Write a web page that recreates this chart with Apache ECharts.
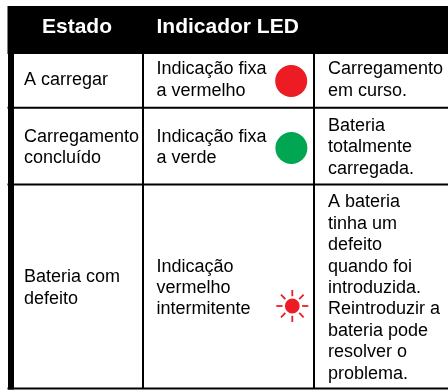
<!DOCTYPE html>
<html><head><meta charset="utf-8">
<script src="https://cdn.jsdelivr.net/npm/echarts@6/dist/echarts.min.js"></script>
<style>html,body{margin:0;padding:0;background:#fff}#c{width:448px;height:390px}</style>
</head><body><div id="c"></div>
<script>
const headers = ['Estado', 'Indicador LED'];
const states = ['A carregar', 'Carregamento\nconcluído', 'Bateria com\ndefeito'];
const indicators = ['Indicação fixa\na vermelho', 'Indicação fixa\na verde', 'Indicação\nvermelho\nintermitente'];
const descriptions = [
  'Carregamento\nem curso.',
  'Bateria\ntotalmente\ncarregada.',
  'A bateria\ntinha um\ndefeito\nquando foi\nintroduzida.\nReintroduzir a\nbateria pode\nresolver o\nproblema.'
];
const ledKinds = ['solid', 'solid', 'blink'];
const ledColors = ['#ed1c24', '#00a651', '#ed1c24'];

/* layout, in the hidden axes' units (separate from the data above) */
const L = {
  w: 448, h: 390, left: 7.5, border: 14, top: 6, headBottom: 54,
  rowLines: [107.7, 184.4, 388.5], colLines: [143, 314], lineW: 2,
  headX: [42, 156.5], headY: 27,
  textX: [24, 156.5, 328], textY: [80, 147.3, 288],
  ledX: [291.2, 291.4, 292.3], ledY: [81, 148, 306], ledR: [16, 16, 7.4], rayIn: 9.8, rayOut: 16
};
const FONT = '"Liberation Sans", Arial, sans-serif';

const rects = [
  [L.left, L.top, L.w, L.headBottom],
  [L.left + 0.5, L.headBottom, L.border, L.rowLines[2] + L.lineW / 2]
];
L.rowLines.forEach(y => rects.push([L.left, y - L.lineW / 2, L.w, y + L.lineW / 2]));
L.colLines.forEach(x => rects.push([x - L.lineW / 2, L.headBottom, x + L.lineW / 2, L.rowLines[2]]));

const cells = [];
headers.forEach((t, i) => cells.push({ value: [L.headX[i], L.headY], t, head: true }));
[states, indicators, descriptions].forEach((col, c) =>
  col.forEach((t, r) => cells.push({ value: [L.textX[c], L.textY[r]], t })));

const chart = echarts.init(document.getElementById('c'), null, { renderer: 'canvas' });
chart.setOption({
  animation: false,
  backgroundColor: '#fff',
  grid: { left: 0, right: 0, top: 0, bottom: 0 },
  xAxis: { type: 'value', min: 0, max: L.w, show: false },
  yAxis: { type: 'value', min: 0, max: L.h, inverse: true, show: false },
  series: [
    {
      type: 'custom', silent: true, clip: false, coordinateSystem: 'cartesian2d', z: 1,
      data: rects,
      renderItem(p, api) {
        const a = api.coord([api.value(0), api.value(1)]);
        const b = api.coord([api.value(2), api.value(3)]);
        return { type: 'rect', shape: { x: a[0], y: a[1], width: b[0] - a[0], height: b[1] - a[1] }, style: { fill: '#000' } };
      }
    },
    {
      type: 'custom', silent: true, clip: false, coordinateSystem: 'cartesian2d', z: 2,
      data: ledKinds.map((k, i) => [L.ledX[i], L.ledY[i]]),
      renderItem(p, api) {
        const c = api.coord([api.value(0), api.value(1)]);
        const i = p.dataIndex, fill = ledColors[i];
        const children = [{ type: 'circle', shape: { cx: c[0], cy: c[1], r: L.ledR[i] }, style: { fill } }];
        if (ledKinds[i] === 'blink') {
          for (let k = 0; k < 8; k++) {
            const t = k * Math.PI / 4, cs = Math.cos(t), sn = Math.sin(t);
            children.push({
              type: 'line',
              shape: { x1: c[0] + cs * L.rayIn, y1: c[1] + sn * L.rayIn, x2: c[0] + cs * L.rayOut, y2: c[1] + sn * L.rayOut },
              style: { stroke: fill, lineWidth: 1.8 }
            });
          }
        }
        return { type: 'group', children };
      }
    },
    {
      type: 'custom', silent: true, clip: false, coordinateSystem: 'cartesian2d', z: 3,
      data: cells.map(c => c.value),
      renderItem(p, api) {
        const c = api.coord([api.value(0), api.value(1)]);
        const cell = cells[p.dataIndex];
        return {
          type: 'text',
          style: {
            x: c[0], y: c[1], text: cell.t,
            fill: cell.head ? '#fff' : '#000',
            font: (cell.head ? 'bold 21px ' : '18px ') + FONT,
            lineHeight: 21.4, align: 'left', verticalAlign: 'middle'
          }
        };
      }
    }
  ]
});
</script></body></html>
